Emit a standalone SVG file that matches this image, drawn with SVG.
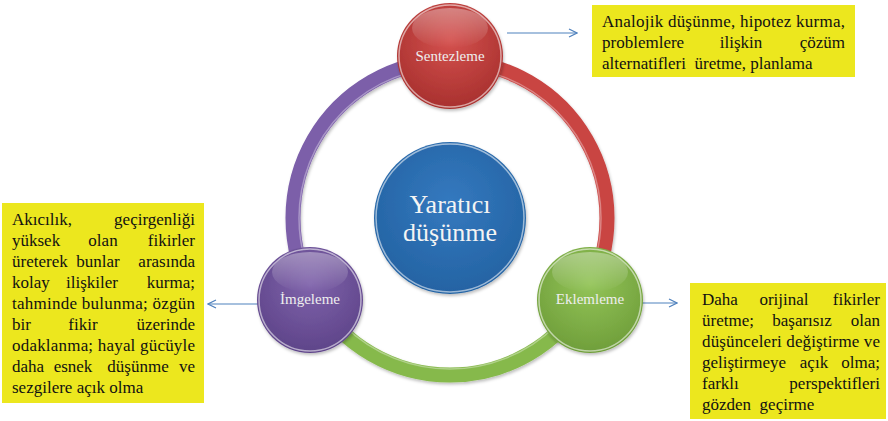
<svg xmlns="http://www.w3.org/2000/svg" width="888" height="421" viewBox="0 0 888 421">
<style>
.box{fill:#ece71e}
.t,.nt,.ct{font-family:'Liberation Serif','Times New Roman',serif}
.t{font-size:17px;fill:#111}
.nt{font-size:15px;fill:#eeeeee;text-anchor:middle}
.ct{font-size:26px;fill:#f4f4f4;text-anchor:middle}
.arr{stroke:#4f81bd;stroke-width:1.2;fill:none}
.rim{fill:none;stroke:#ffffff;stroke-opacity:0.55;stroke-width:1.5}
.e{text-anchor:end}
.m{text-anchor:middle}
</style>
<defs>
<marker id="ah" viewBox="0 0 10 10" refX="9" refY="5" markerWidth="10" markerHeight="10" markerUnits="userSpaceOnUse" orient="auto">
<path d="M1,1 L9,5 L1,9" fill="none" stroke="#4f81bd" stroke-width="1.2"/>
</marker>
<radialGradient id="gRed" cx="50%" cy="35%" r="65%">
<stop offset="0" stop-color="#d4514e"/><stop offset="1" stop-color="#a8302e"/>
</radialGradient>
<radialGradient id="gPur" cx="50%" cy="35%" r="65%">
<stop offset="0" stop-color="#7f63ab"/><stop offset="1" stop-color="#5e4489"/>
</radialGradient>
<radialGradient id="gGrn" cx="50%" cy="35%" r="65%">
<stop offset="0" stop-color="#93c458"/><stop offset="1" stop-color="#6f9e3a"/>
</radialGradient>
<radialGradient id="gBlu" cx="50%" cy="40%" r="60%">
<stop offset="0" stop-color="#3479bf"/><stop offset="1" stop-color="#2463a3"/>
</radialGradient>
<linearGradient id="gloss" x1="0" y1="0" x2="0" y2="1">
<stop offset="0" stop-color="#ffffff" stop-opacity="0.35"/><stop offset="1" stop-color="#ffffff" stop-opacity="0"/>
</linearGradient>
<filter id="sh" x="-20%" y="-20%" width="140%" height="140%">
<feDropShadow dx="1" dy="2" stdDeviation="1.5" flood-color="#000" flood-opacity="0.25"/>
</filter>
</defs>
<rect width="888" height="421" fill="#ffffff"/>

<g id="ring" filter="url(#sh)">
<path d="M450,61 A157,157 0 0 1 585.97,296.5" fill="none" stroke="#c94442" stroke-width="15"/>
<path d="M585.97,296.5 A157,157 0 0 1 314.03,296.5" fill="none" stroke="#86b94b" stroke-width="15"/>
<path d="M314.03,296.5 A157,157 0 0 1 450,61" fill="none" stroke="#7b5ea9" stroke-width="15"/>
<circle cx="450" cy="218" r="151" fill="none" stroke="#ffffff" stroke-opacity="0.35" stroke-width="1.5"/>
</g>

<g id="connectors">
<line class="arr" x1="507" y1="33" x2="577" y2="33" marker-end="url(#ah)"/>
<line class="arr" x1="258" y1="304" x2="208" y2="304" marker-end="url(#ah)"/>
<line class="arr" x1="642" y1="303" x2="677" y2="303" marker-end="url(#ah)"/>
</g>

<g id="center">
<circle cx="450" cy="218" r="76" fill="url(#gBlu)" filter="url(#sh)"/>
<circle cx="450" cy="218" r="74" class="rim" stroke-opacity="0.45"/>
<text class="ct" x="450" y="213">Yaratıcı</text>
<text class="ct" x="450" y="241">düşünme</text>
</g>

<g id="sentezleme">
<circle cx="450" cy="56" r="53" fill="url(#gRed)" filter="url(#sh)"/>
<circle cx="450" cy="56" r="51" class="rim"/>
<ellipse cx="450" cy="28" rx="38" ry="20" fill="url(#gloss)"/>
<text class="nt" x="450" y="61">Sentezleme</text>
</g>

<g id="imgeleme">
<circle cx="310" cy="300" r="53" fill="url(#gPur)" filter="url(#sh)"/>
<circle cx="310" cy="300" r="51" class="rim"/>
<ellipse cx="310" cy="272" rx="38" ry="20" fill="url(#gloss)"/>
<text class="nt" x="310" y="304">İmgeleme</text>
</g>

<g id="eklemleme">
<circle cx="590" cy="300" r="53" fill="url(#gGrn)" filter="url(#sh)"/>
<circle cx="590" cy="300" r="51" class="rim"/>
<ellipse cx="590" cy="272" rx="38" ry="20" fill="url(#gloss)"/>
<text class="nt" x="590" y="304">Eklemleme</text>
</g>

<g id="box-top">
<rect class="box" x="592" y="5" width="263" height="72"/>
<text class="t" x="602" y="27" textLength="243" lengthAdjust="spacing">Analojik düşünme, hipotez kurma,</text>
<text class="t" y="48"><tspan x="602">problemlere</tspan><tspan x="741" class="m">ilişkin</tspan><tspan x="845" class="e">çözüm</tspan></text>
<text class="t" y="69" x="602" xml:space="preserve">alternatifleri  üretme, planlama</text>
</g>

<g id="box-left">
<rect class="box" x="2" y="203" width="202" height="200"/>
<text class="t" y="225"><tspan x="12">Akıcılık,</tspan><tspan x="195" class="e">geçirgenliği</tspan></text>
<text class="t" y="246"><tspan x="12">yüksek</tspan><tspan x="103" class="m">olan</tspan><tspan x="195" class="e">fikirler</tspan></text>
<text class="t" y="267"><tspan x="12">üreterek</tspan><tspan x="98" class="m">bunlar</tspan><tspan x="195" class="e">arasında</tspan></text>
<text class="t" y="288"><tspan x="12">kolay</tspan><tspan x="92" class="m">ilişkiler</tspan><tspan x="195" class="e">kurma;</tspan></text>
<text class="t" x="12" y="309" textLength="183" lengthAdjust="spacing">tahminde bulunma; özgün</text>
<text class="t" y="330"><tspan x="12">bir</tspan><tspan x="83" class="m">fikir</tspan><tspan x="195" class="e">üzerinde</tspan></text>
<text class="t" x="12" y="351" textLength="183" lengthAdjust="spacing">odaklanma; hayal gücüyle</text>
<text class="t" y="372"><tspan x="12">daha</tspan><tspan x="73" class="m">esnek</tspan><tspan x="138" class="m">düşünme</tspan><tspan x="195" class="e">ve</tspan></text>
<text class="t" y="393" x="12">sezgilere açık olma</text>
</g>

<g id="box-right">
<rect class="box" x="690" y="283" width="196" height="136"/>
<text class="t" y="305"><tspan x="702">Daha</tspan><tspan x="784" class="m">orijinal</tspan><tspan x="880" class="e">fikirler</tspan></text>
<text class="t" y="326"><tspan x="702">üretme;</tspan><tspan x="802" class="m">başarısız</tspan><tspan x="880" class="e">olan</tspan></text>
<text class="t" x="702" y="347" textLength="178" lengthAdjust="spacing">düşünceleri değiştirme ve</text>
<text class="t" y="368"><tspan x="702">geliştirmeye</tspan><tspan x="814" class="m">açık</tspan><tspan x="880" class="e">olma;</tspan></text>
<text class="t" y="389"><tspan x="702">farklı</tspan><tspan x="880" class="e">perspektifleri</tspan></text>
<text class="t" y="410" x="702" xml:space="preserve">gözden  geçirme</text>
</g>
</svg>
